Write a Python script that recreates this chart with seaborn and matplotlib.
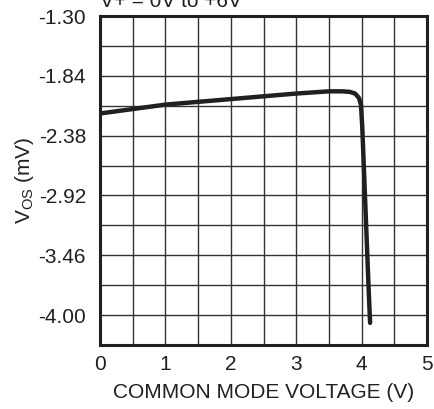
import matplotlib
matplotlib.use("Agg")
import matplotlib.pyplot as plt
import seaborn as sns
import numpy as np
import pandas as pd

# Data
vcm = [0.0, 0.5, 1.0, 1.5, 2.0, 2.5, 3.0, 3.5, 3.7, 3.82, 3.90, 3.96, 3.99, 4.01, 4.03, 4.07, 4.11, 4.13]
vos = [-2.18, -2.14, -2.10, -2.075, -2.05, -2.025, -2.00, -1.98, -1.98, -1.985, -2.00, -2.04, -2.10, -2.30, -2.60, -3.20, -3.80, -4.07]

x_ticks = [0, 1, 2, 3, 4, 5]
y_ticks = [-1.30, -1.84, -2.38, -2.92, -3.46, -4.00]
x_label = "COMMON MODE VOLTAGE (V)"
y_label = r"V$_\mathregular{OS}$ (mV)"
top_note = "V+ = 0V to +6V"

sns.set_style("white")
plt.rcParams["font.family"] = ["Liberation Sans", "DejaVu Sans"]
plt.rcParams["mathtext.fontset"] = "custom"
plt.rcParams["mathtext.rm"] = "Liberation Sans"

fig = plt.figure(figsize=(4.34, 4.09), dpi=100)
ax = fig.add_axes([100/434, 1-345/409, 327/434, 329/409])

df = pd.DataFrame({"vcm": vcm, "vos": vos})
sns.lineplot(data=df, x="vcm", y="vos", ax=ax, color="#231f20", linewidth=3.2, sort=False)

ax.set_xlim(0, 5)
ax.set_ylim(-4.27, -1.30)
ax.set_xticks(x_ticks)
ax.set_xticklabels([str(t) for t in x_ticks])
ax.set_yticks(y_ticks)
ax.set_yticklabels([f"{t:.2f}" for t in y_ticks])
ax.set_xticks(np.arange(0, 5.01, 0.5), minor=True)
ax.set_yticks(np.arange(-4.27, -1.29, 0.27), minor=True)
ax.grid(True, which="both", color="#333333", linewidth=1.0)
ax.tick_params(which="both", length=0, labelsize=15, colors="#231f20")
ax.tick_params(axis="y", pad=10)
ax.tick_params(axis="x", pad=7)
for s in ax.spines.values():
    s.set_color("#231f20")
    s.set_linewidth(2.2)
ax.set_xlabel(x_label, fontsize=15, color="#231f20", labelpad=7)
ax.set_ylabel(y_label, fontsize=15, color="#231f20", labelpad=2)
fig.text(100/434, 1.0 - 7/409, top_note, fontsize=15, color="#231f20", ha="left", va="baseline")

fig.savefig("out.png", dpi=100)
